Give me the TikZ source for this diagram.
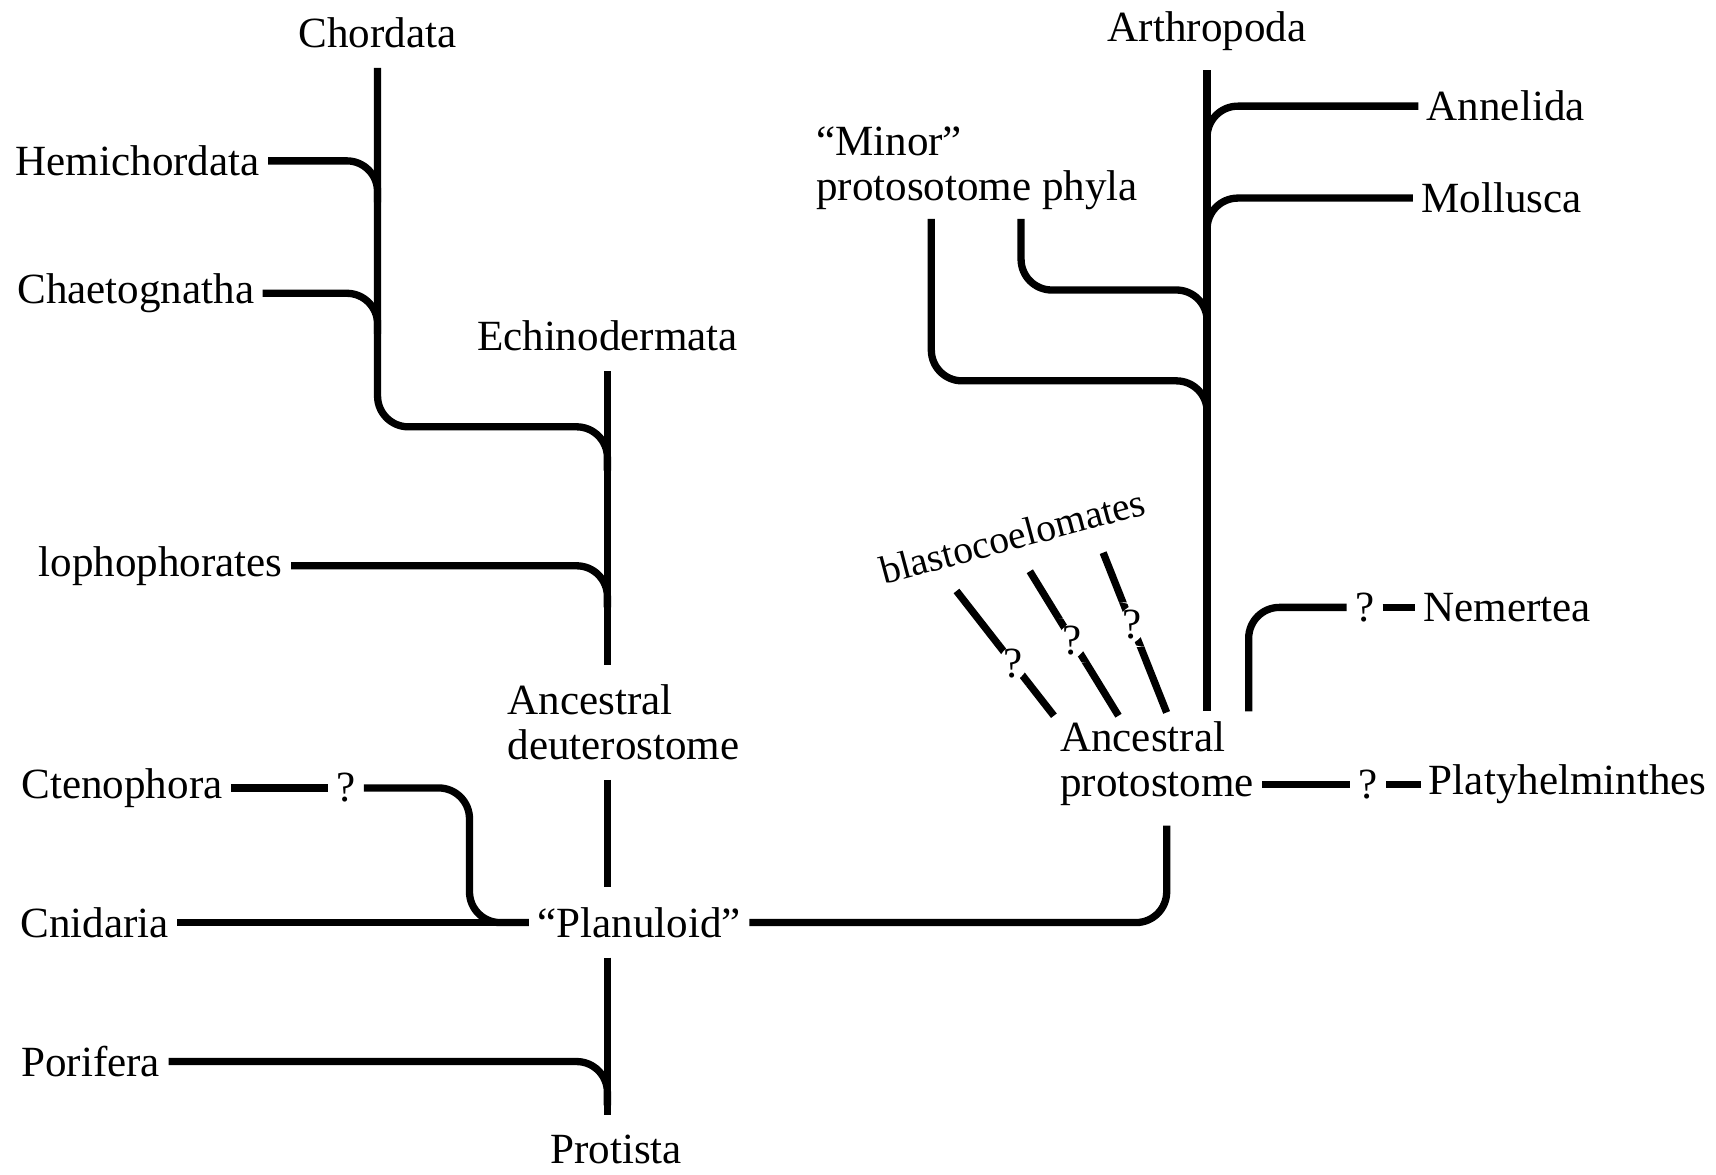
\documentclass[tikz,border=0pt]{standalone}
\usepackage{fontspec}
\setmainfont{Liberation Serif}
\tikzset{
  br/.style={line width=1.9pt, rounded corners=8pt},
  qm/.style={inner sep=2pt},
}

\begin{document}
\begin{tikzpicture}[x=0.1mm, y=-0.1mm, font=\fontsize{11.2}{11.6}\selectfont,
    every node/.style={inner xsep=2pt, inner ysep=5pt}]
    \useasboundingbox (0,0) rectangle (1568,1073);

    \node (chordata) at (345,30) {Chordata};
    \node[anchor=east] (hemi) at (245,147) {Hemichordata};
    \node[anchor=east] (chaeto) at (240,268) {Chaetognatha};
    \node (echino) at (555,307) {Echinodermata};
    \node[anchor=east] (lopho) at (266,517) {lophophorates};
    \node[anchor=west, align=left] (ancd) at (456,660) {Ancestral\\deuterostome};
    \node[anchor=east] (cteno) at (211,720) {Ctenophora};
    \node[qm] (qc) at (316,720) {?};
    \node[anchor=east] (cnid) at (162,843) {Cnidaria};
    \node (planu) at (584,843) {“Planuloid”};
    \node[anchor=east] (pori) at (154,970) {Porifera};
    \node (protista) at (563,1050) {Protista};

    \node (arthro) at (1103,28) {Arthropoda};
    \node[anchor=west] (annel) at (1296,97) {Annelida};
    \node[anchor=west] (moll) at (1291,181) {Mollusca};
    \node[anchor=west, align=left] (minor) at (738,154) {“Minor”\\protosotome phyla};
    \node[rotate=15, font=\fontsize{10.3}{11}\selectfont] (blasto) at (925,490) {blastocoelomates};
    \node[qm] (qn) at (1247,555) {?};
    \node[anchor=west] (nemer) at (1293,555) {Nemertea};
    \node[anchor=west, align=left] (ancp) at (961,698) {Ancestral\\protostome};
    \node[qm] (qp) at (1250,717) {?};
    \node[anchor=west] (platy) at (1298,717) {Platyhelminthes};

    \coordinate (jh) at (345,185);
    \coordinate (jc) at (345,305);
    \coordinate (cb1) at (555,390);
    \coordinate (cb2) at (555,430);
    \coordinate (jl) at (555,555);
    \coordinate (cj) at (429,843);
    \coordinate (jp) at (555,1010);
    \coordinate (ja) at (1103,130);
    \coordinate (jm) at (1103,215);
    \coordinate (m1) at (851,200);
    \coordinate (m2) at (933,200);
    \coordinate (jx1) at (1103,265);
    \coordinate (jy1) at (1103,300);
    \coordinate (jx2) at (1103,348);
    \coordinate (jy2) at (1103,385);
    \coordinate (nb) at (1141,650);
    \coordinate (b1) at (874,540);
    \coordinate (b1e) at (963,654);
    \coordinate (b2) at (941,522);
    \coordinate (b2e) at (1022,654);
    \coordinate (b3) at (1008,505);
    \coordinate (b3e) at (1066,651);

    \draw[br] (chordata.south) |- (cb1) -- (cb2);
    \draw[br] (hemi.east) -| (jh);
    \draw[br] (chaeto.east) -| (jc);
    \draw[br] (echino.south) -- (echino.south |- ancd.north);
    \draw[br] (lopho.east) -| (jl);
    \draw[br] (ancd.south -| echino.south) -- (planu.north -| echino.south);
    \draw[br] (cteno.east) -- (qc.west);
    \draw[br] (qc.east) -| (cj) -- (planu.west);
    \draw[br] (cnid.east) -- (planu.west);
    \draw[br] (planu.south -| echino.south) -- (protista.north -| echino.south);
    \draw[br] (pori.east) -| (jp);
    \draw[br] (planu.east) -| ([xshift=2.5pt]ancp.south);

    \draw[br] (arthro.south) -- (arthro.south |- nb);
    \draw[br] (annel.west) -| (ja);
    \draw[br] (moll.west) -| (jm);
    \draw[br] (m2) |- (jx1) -- (jy1);
    \draw[br] (m1) |- (jx2) -- (jy2);
    \draw[br] (b1) -- node[qm, pos=.58, fill=white]{?} (b1e);
    \draw[br] (b2) -- node[qm, pos=.48, fill=white]{?} (b2e);
    \draw[br] (b3) -- node[qm, pos=.45, fill=white]{?} (b3e);
    \draw[br] (nb) |- (qn.west);
    \draw[br] (qn.east) -- (nemer.west);
    \draw[br] (ancp.east |- platy.west) -- (qp.west);
    \draw[br] (qp.east) -- (platy.west);
\end{tikzpicture}
\end{document}
